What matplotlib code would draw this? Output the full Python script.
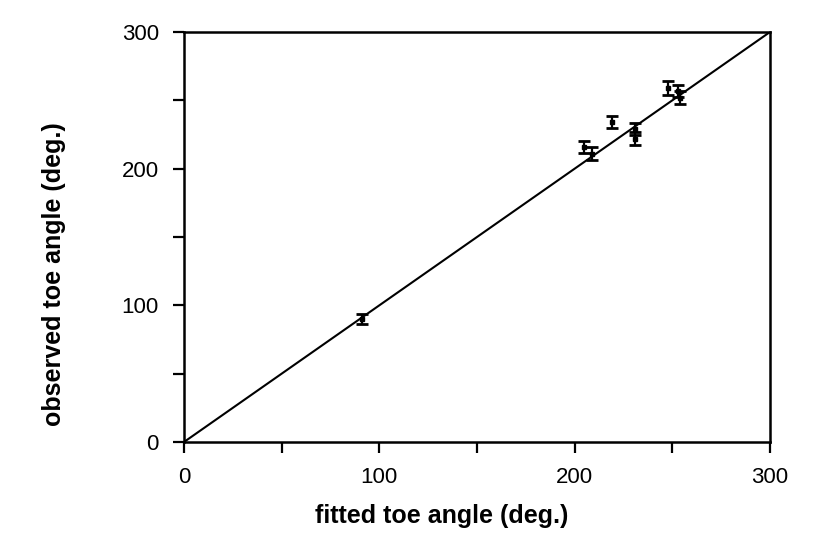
import matplotlib
matplotlib.use("Agg")
import matplotlib.pyplot as plt
import numpy as np

# fitted vs observed toe angle (deg.)
fitted = [91, 205, 209, 219, 231, 231, 248, 253, 254]
observed = [90, 216, 211, 234, 229, 222, 259, 257, 252]
obs_err = [4, 4.5, 4.5, 4.5, 4.7, 4.9, 4.9, 4.5, 4.5]

plt.rcParams['font.family'] = ['Liberation Sans', 'DejaVu Sans']

fig = plt.figure(figsize=(8.24, 5.59), dpi=100)
ax = fig.add_axes([0.2233, 0.2093, 0.7112, 0.7335])

# y = x reference line
ax.plot([0, 300], [0, 300], color="black", lw=1.5, zorder=1)

ax.errorbar(fitted, observed, yerr=obs_err, fmt="s", color="black",
            ms=3, capsize=4.5, elinewidth=1.6, capthick=2, zorder=2)

ax.set_xlim(0, 300)
ax.set_ylim(0, 300)
ax.set_xticks(np.arange(0, 301, 50))
ax.set_yticks(np.arange(0, 301, 50))
ax.set_xticklabels(["0", "", "100", "", "200", "", "300"])
ax.set_yticklabels(["0", "", "100", "", "200", "", "300"])
ax.tick_params(direction="out", length=8, width=1.6, labelsize=16, pad=10)

for s in ax.spines.values():
    s.set_linewidth(1.8)

fig.text(442 / 824, 1 - 516 / 559, "fitted toe angle (deg.)", fontsize=18,
         fontweight="bold", ha="center", va="center")
fig.text(54 / 824, 1 - 274 / 559, "observed toe angle (deg.)", fontsize=18,
         fontweight="bold", ha="center", va="center", rotation=90)

fig.savefig("out.png", dpi=100)
